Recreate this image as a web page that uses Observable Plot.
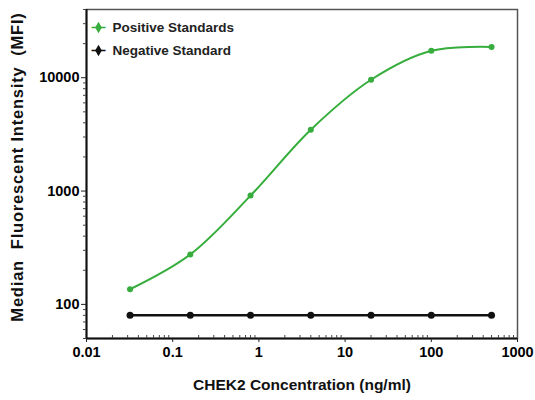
<!DOCTYPE html>
<html>
<head>
<meta charset="utf-8">
<script src="https://cdn.jsdelivr.net/npm/d3@7"></script>
<script src="https://cdn.jsdelivr.net/npm/@observablehq/plot@0.6"></script>
<style>
  body { margin: 0; background: #fff; }
  #chart svg { font-family: "Liberation Sans", Arial, sans-serif; }
</style>
</head>
<body>
<div id="chart"></div>
<script>
// Data
const concentrations = [0.032, 0.16, 0.8, 4, 20, 100, 500];
const positiveMFI = [136, 276, 912, 3480, 9600, 17300, 18700];
const negativeMFI = [80, 80, 80, 80, 80, 80, 80];
const seriesNames = ["Positive Standards", "Negative Standard"];
const xTicks = [0.01, 0.1, 1, 10, 100, 1000];
const yTicks = [100, 1000, 10000];
const xLabel = "CHEK2 Concentration (ng/ml)";
const yLabel = "Median  Fluorescent Intensity  (MFI)";

const green = "#36ad3c";

const positive = concentrations.map((c, i) => ({x: c, y: positiveMFI[i]}));
const negative = concentrations.map((c, i) => ({x: c, y: negativeMFI[i]}));

// minor ticks derived from log decades
const minorX = [];
for (let e = -2; e < 3; e++) for (let m = 2; m <= 9; m++) minorX.push(m * Math.pow(10, e));
const minorY = [];
for (let e = 1; e < 5; e++) for (let m = 2; m <= 9; m++) {
  const v = m * Math.pow(10, e);
  if (v >= 50 && v <= 40000) minorY.push(v);
}

const chart = Plot.plot({
  width: 535,
  height: 400,
  marginLeft: 86,
  marginRight: 18,
  marginTop: 9,
  marginBottom: 62,
  style: {fontFamily: "'Liberation Sans', Arial, sans-serif", fontWeight: "bold"},
  x: {type: "log", domain: [0.01, 1000]},
  y: {type: "log", domain: [50, 40000]},
  marks: [
    Plot.frame({stroke: "#555", strokeWidth: 1.5}),
    Plot.ruleX([0.01], {stroke: "#111", strokeWidth: 2}),
    Plot.ruleY([50], {stroke: "#111", strokeWidth: 2}),
    Plot.axisY({ticks: yTicks, tickSize: 5, tickPadding: 2, tickFormat: d => String(d), fontSize: 14.5, fontWeight: "bold", label: null, stroke: "#222"}),
    Plot.axisY({ticks: minorY, tickSize: 3, tickFormat: () => "", label: null, stroke: "#444"}),
    Plot.axisX({ticks: xTicks, tickSize: 4, tickPadding: 4, tickFormat: d => String(d), fontSize: 14.5, fontWeight: "bold", label: null, stroke: "#222"}),
    Plot.axisX({ticks: minorX, tickSize: -3, tickFormat: () => "", label: null, stroke: "#444"}),
    Plot.text([xLabel], {frameAnchor: "bottom", dy: 47, lineAnchor: "middle", fontSize: 15.5, fontWeight: "bold", fill: "#111"}),
    Plot.text([yLabel], {frameAnchor: "left", dx: -69, dy: -7, rotate: -90, textAnchor: "middle", lineAnchor: "middle", fontSize: 16.5, fontWeight: "bold", fill: "#111"}),
    // Negative standard
    Plot.line(negative, {x: "x", y: "y", stroke: "#111", strokeWidth: 2.5}),
    Plot.dot(negative, {x: "x", y: "y", fill: "#111", r: 3.5}),
    // Positive standards
    Plot.line(positive, {x: "x", y: "y", stroke: green, strokeWidth: 2, curve: "catmull-rom"}),
    Plot.dot(positive, {x: "x", y: "y", fill: green, r: 3}),
    // Legend
    Plot.text(["\u2014"], {frameAnchor: "top-left", dx: 12, dy: 18, textAnchor: "middle", lineAnchor: "middle", fill: green, fontSize: 14}),
    Plot.dot([0], {frameAnchor: "top-left", dx: 12, dy: 18, fill: green, symbol: "diamond", r: 3.5}),
    Plot.text(["\u2014"], {frameAnchor: "top-left", dx: 12, dy: 41, textAnchor: "middle", lineAnchor: "middle", fill: "#111", fontSize: 14}),
    Plot.dot([0], {frameAnchor: "top-left", dx: 12, dy: 41, fill: "#111", symbol: "diamond", r: 3.5}),
    Plot.text([seriesNames[0]], {frameAnchor: "top-left", dx: 26, dy: 18, textAnchor: "start", lineAnchor: "middle", fontSize: 13.5, fontWeight: "bold", fill: "#222"}),
    Plot.text([seriesNames[1]], {frameAnchor: "top-left", dx: 26, dy: 41, textAnchor: "start", lineAnchor: "middle", fontSize: 13.5, fontWeight: "bold", fill: "#222"})
  ]
});
chart.querySelectorAll("text").forEach(t => {
  if (t.textContent === yLabel) t.style.letterSpacing = "0.8px";
});
document.getElementById("chart").appendChild(chart);
</script>
</body>
</html>
